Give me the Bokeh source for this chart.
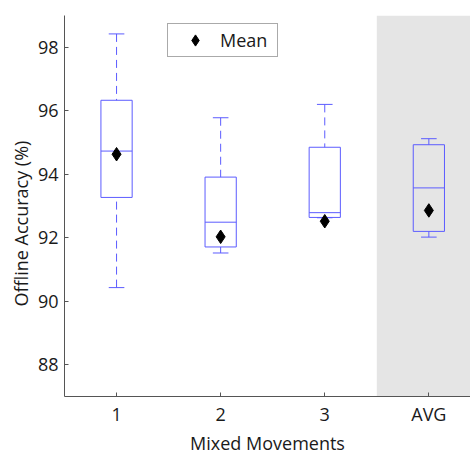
import numpy as np
from bokeh.plotting import figure
from bokeh.models import (FixedTicker, BoxAnnotation, Legend, LegendItem, Range1d,
                          ColumnDataSource, Title)
from bokeh.embed import file_html
from bokeh.resources import INLINE

# ---- data ----
categories = ["1", "2", "3", "AVG"]
positions = [1, 2, 3, 4]
whisker_low = [90.43, 91.52, 92.63, 92.02]
q1 = [93.27, 91.71, 92.64, 92.20]
median = [94.73, 92.49, 92.79, 93.57]
q3 = [96.33, 93.91, 94.85, 94.93]
whisker_high = [98.42, 95.78, 96.20, 95.12]
mean = [94.63, 92.03, 92.52, 92.86]
y_ticks = [88, 90, 92, 94, 96, 98]

BOX_W = 0.30
CAP_W = 0.15
BLUE = "#5c5cff"
FONT = "Open Sans"
FS = "18px"

x = np.array(positions, dtype=float)
src = ColumnDataSource(dict(
    x=x, lo=whisker_low, q1=q1, med=median, q3=q3, hi=whisker_high, mean=mean,
    bx0=x - BOX_W / 2, bx1=x + BOX_W / 2, cx0=x - CAP_W / 2, cx1=x + CAP_W / 2,
))

p = figure(width=470, height=454, output_backend="svg", toolbar_location=None,
           x_range=Range1d(0.5, 4.4), y_range=Range1d(87, 99),
           min_border_left=64, min_border_top=15, min_border_right=0,
           min_border_bottom=58)
p.outline_line_color = None
p.xgrid.visible = False
p.ygrid.visible = False

p.add_layout(BoxAnnotation(left=3.5, fill_color="#e5e5e5", fill_alpha=1,
                           line_color=None, level="underlay"))

# whiskers (dashed), drawn from the caps towards the box
p.segment(x0="x", y0="hi", x1="x", y1="q3", source=src, line_color=BLUE,
          line_width=1, line_dash="8 5")
p.segment(x0="x", y0="lo", x1="x", y1="q1", source=src, line_color=BLUE,
          line_width=1, line_dash="8 5")
# caps
p.segment(x0="cx0", y0="hi", x1="cx1", y1="hi", source=src, line_color=BLUE, line_width=1)
p.segment(x0="cx0", y0="lo", x1="cx1", y1="lo", source=src, line_color=BLUE, line_width=1)
# boxes
p.quad(left="bx0", right="bx1", bottom="q1", top="q3", source=src,
       fill_color=None, line_color=BLUE, line_width=1)
# medians
p.segment(x0="bx0", y0="med", x1="bx1", y1="med", source=src, line_color=BLUE, line_width=1)
# means
r_mean = p.scatter(x="x", y="mean", source=src, marker="diamond", size=13.5,
                   fill_color="black", line_color="black")

legend = Legend(items=[LegendItem(label="Mean", renderers=[r_mean])],
                location=(103, 339), margin=0, padding=2,
                glyph_width=50, glyph_height=28, label_standoff=0, label_width=55,
                border_line_color="#555555", border_line_width=1,
                background_fill_color="white", background_fill_alpha=1,
                label_text_font=FONT, label_text_font_size=FS,
                label_text_color="#1a1a1a")
p.add_layout(legend)

for ax in (p.xaxis[0], p.yaxis[0]):
    ax.axis_line_color = "#555555"
    ax.major_tick_line_color = "#555555"
    ax.major_tick_in = 4
    ax.major_tick_out = 0
    ax.minor_tick_line_color = None
    ax.major_label_text_font = FONT
    ax.major_label_text_font_size = FS
    ax.major_label_text_color = "#1a1a1a"

p.xaxis.ticker = FixedTicker(ticks=positions)
p.xaxis.major_label_overrides = {pos: lab for pos, lab in zip(positions, categories)}
p.xaxis.major_label_standoff = 5

p.yaxis.ticker = FixedTicker(ticks=y_ticks)
p.yaxis.major_label_standoff = 6

xtitle = Title(text="Mixed Movements", align="center", standoff=0,
               text_font=FONT, text_font_size=FS, text_font_style="normal",
               text_color="#1a1a1a")
p.add_layout(xtitle, "below")

ytitle = Title(text="Offline Accuracy (%)", align="left", offset=90,
               text_font=FONT, text_font_size=FS, text_font_style="normal",
               text_color="#1a1a1a", standoff=4)
p.add_layout(ytitle, "left")

open("out.html", "w").write(file_html(p, INLINE))
